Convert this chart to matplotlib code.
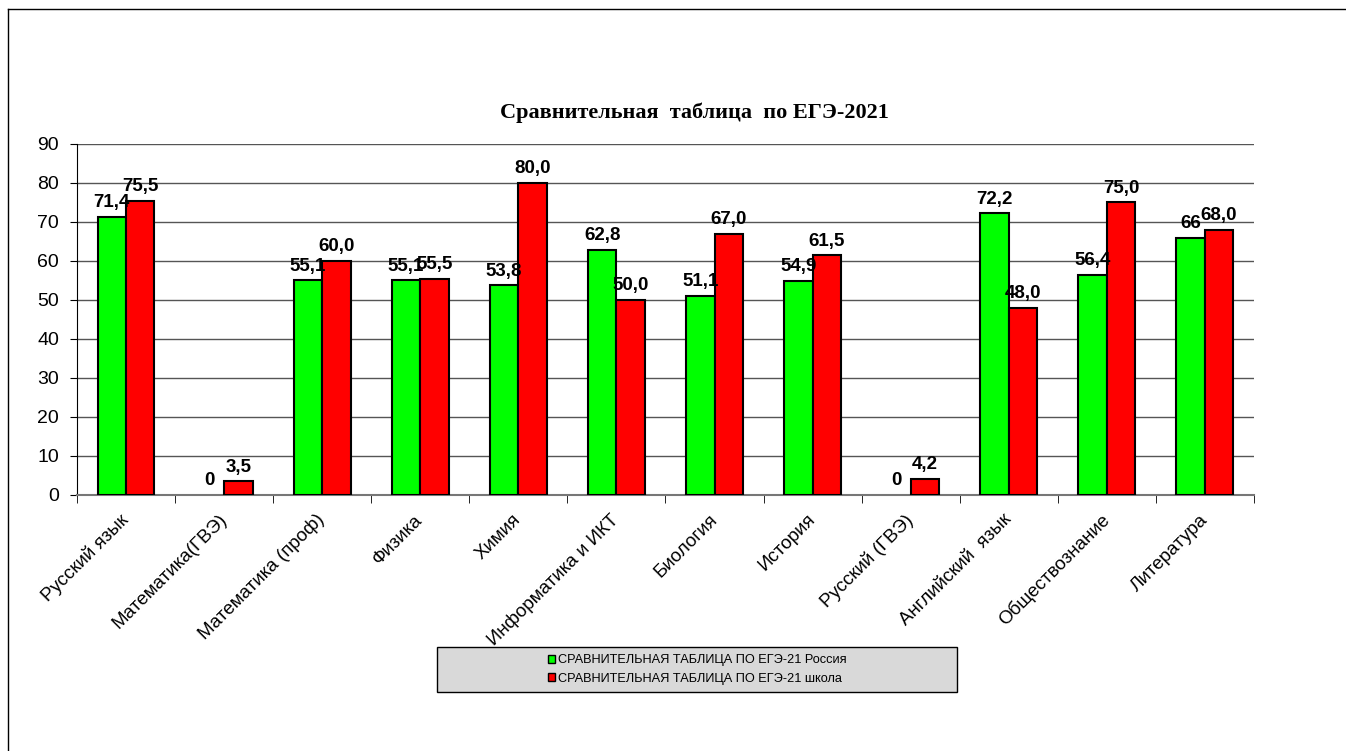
import matplotlib
matplotlib.use("Agg")
import matplotlib.pyplot as plt
from matplotlib.patches import Rectangle
from matplotlib.lines import Line2D
import numpy as np

plt.rcParams['font.family'] = ['Liberation Sans', 'DejaVu Sans']

subjects = ['Русский язык', 'Математика(ГВЭ)', 'Математика (проф)', 'Физика',
            'Химия', 'Информатика и ИКТ', 'Биология', 'История',
            'Русский (ГВЭ)', 'Английский  язык', 'Обществознание', 'Литература']
russia = [71.4, 0, 55.1, 55.1, 53.8, 62.8, 51.1, 54.9, 0, 72.2, 56.4, 66]
russia_labels = ['71,4', '0', '55,1', '55,1', '53,8', '62,8', '51,1', '54,9', '0', '72,2', '56,4', '66']
school = [75.5, 3.5, 60.0, 55.5, 80.0, 50.0, 67.0, 61.5, 4.2, 48.0, 75.0, 68.0]

title = 'Сравнительная  таблица  по ЕГЭ-2021'
leg_names = ['СРАВНИТЕЛЬНАЯ ТАБЛИЦА ПО ЕГЭ-21 Россия',
             'СРАВНИТЕЛЬНАЯ ТАБЛИЦА ПО ЕГЭ-21 школа']

fig = plt.figure(figsize=(13.46, 7.51), dpi=100)
ax = fig.add_axes([0.0572, 0.3409, 0.8744, 0.4674])

x = np.arange(len(subjects))
w = 0.29
g_lw = [1.5 if v > 0 else 0 for v in russia]
ax.bar(x - w / 2, russia, w, color='#00ff00', edgecolor='black', linewidth=g_lw, zorder=3)
ax.bar(x + w / 2, school, w, color='#ff0000', edgecolor='black', linewidth=1.5, zorder=3)

for i in range(len(subjects)):
    ax.annotate(russia_labels[i], (x[i] - w / 2, russia[i]), xytext=(0, 4),
                textcoords='offset points', ha='center', va='bottom',
                fontsize=13.5, fontweight='bold', zorder=5)
    ax.annotate(('%.1f' % school[i]).replace('.', ','), (x[i] + w / 2, school[i]),
                xytext=(0, 4), textcoords='offset points', ha='center', va='bottom',
                fontsize=13.5, fontweight='bold', zorder=5)

ax.set_xlim(-0.5, len(subjects) - 0.5)
ax.set_ylim(0, 90)
ax.set_yticks(range(0, 91, 10))
ax.yaxis.grid(True, color='#555555', linewidth=1, zorder=0)
ax.tick_params(axis='y', labelsize=14, length=5, direction='out', pad=8)

ax.set_xticks(x)
ax.set_xticklabels(subjects, rotation=45, ha='right', va='center',
                   rotation_mode='anchor', fontsize=13.5)
ax.tick_params(axis='x', length=0, pad=16)
ax.set_xticks(np.arange(-0.5, len(subjects), 1), minor=True)
ax.tick_params(axis='x', which='minor', length=6, direction='out')

for s in ['top', 'right']:
    ax.spines[s].set_visible(False)
ax.spines['bottom'].set_color('#777777')
ax.spines['bottom'].set_linewidth(1.5)

fig.text(0.516, 0.8495, title, ha='center', va='center', fontsize=16,
         fontweight='bold', family='Liberation Serif')

# legend box
fig.patches.append(Rectangle((0.3247, 0.0786), 0.3863, 0.0599, transform=fig.transFigure,
                             facecolor='#d9d9d9', edgecolor='black', linewidth=1))
handles = [Rectangle((0, 0), 1, 1, facecolor='#00ff00', edgecolor='black'),
           Rectangle((0, 0), 1, 1, facecolor='#ff0000', edgecolor='black')]
fig.legend(handles, leg_names, loc='center', bbox_to_anchor=(0.5178, 0.1085),
           frameon=False, fontsize=9.2, handlelength=0.6, handleheight=0.6,
           handletextpad=0.2, labelspacing=0.5)

# outer frame (top and left only)
fig.add_artist(Line2D([8 / 1346, 1], [1 - 9 / 751, 1 - 9 / 751], transform=fig.transFigure,
                      color='black', linewidth=1))
fig.add_artist(Line2D([8 / 1346, 8 / 1346], [0, 1 - 9 / 751], transform=fig.transFigure,
                      color='black', linewidth=1))

fig.savefig('out.png', dpi=100)
